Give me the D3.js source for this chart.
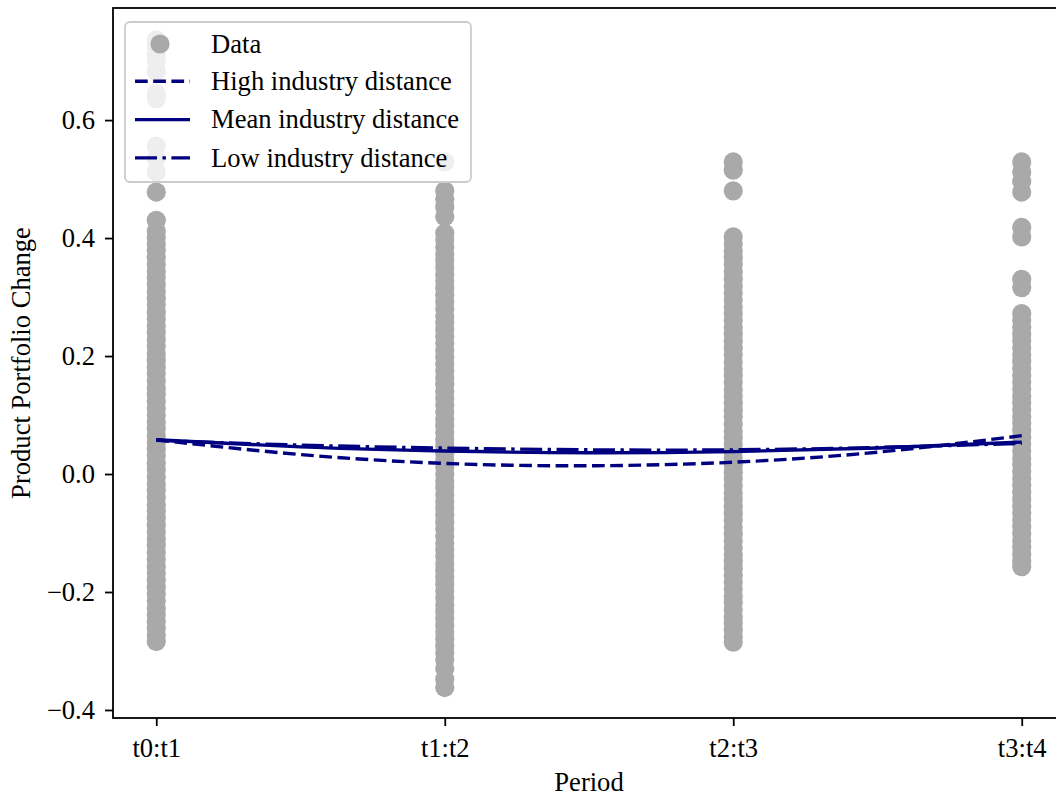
<!DOCTYPE html>
<html>
<head>
<meta charset="utf-8">
<script src="https://cdn.jsdelivr.net/npm/d3@7"></script>
<style>
  html, body { margin: 0; padding: 0; background: #fff; overflow: hidden; }
  text { font-family: "Liberation Serif", "Times New Roman", serif; }
</style>
</head>
<body>
<div id="chart"></div>
<script>
// Scatter + fitted curves: product portfolio change by period
const width = 1056, height = 796;
const margin = {top: 8, left: 113, bottom: 78};
const plotRight = 1065; // right spine falls just outside the picture
const fontSize = 26.6;

const periods = ["t0:t1", "t1:t2", "t2:t3", "t3:t4"];
const yTicks = [-0.4, -0.2, 0.0, 0.2, 0.4, 0.6];

const obsT0 = [0.736, 0.725, 0.712, 0.700, 0.682, 0.645, 0.636, 0.556, 0.535, 0.512, 0.478,
  0.430, 0.412, 0.401, 0.390, 0.379, 0.367, 0.356, 0.344, 0.333, 0.321, 0.309, 0.298, 0.287,
  0.274, 0.263, 0.251, 0.240, 0.228, 0.217, 0.204, 0.193, 0.181, 0.170, 0.158, 0.146, 0.135,
  0.123, 0.112, 0.100, 0.088, 0.077, 0.065, 0.053, 0.042, 0.031, 0.018, 0.007, -0.005, -0.017,
  -0.028, -0.040, -0.052, -0.063, -0.075, -0.087, -0.098, -0.110, -0.121, -0.133, -0.145,
  -0.157, -0.168, -0.180, -0.192, -0.203, -0.215, -0.227, -0.238, -0.250, -0.262, -0.273, -0.284];
const obsT1 = [0.529, 0.480, 0.466, 0.452, 0.436, 0.408, 0.397, 0.385, 0.373, 0.362, 0.350,
  0.338, 0.327, 0.315, 0.303, 0.292, 0.280, 0.268, 0.257, 0.245, 0.233, 0.222, 0.210, 0.198,
  0.187, 0.175, 0.163, 0.152, 0.140, 0.128, 0.117, 0.105, 0.093, 0.082, 0.070, 0.058, 0.047,
  0.035, 0.023, 0.012, 0.000, -0.012, -0.023, -0.035, -0.047, -0.058, -0.070, -0.082, -0.093,
  -0.105, -0.117, -0.128, -0.140, -0.152, -0.163, -0.175, -0.187, -0.198, -0.210, -0.222,
  -0.233, -0.245, -0.257, -0.268, -0.280, -0.292, -0.303, -0.315, -0.330, -0.348, -0.362];
const obsT2 = [0.529, 0.515, 0.480, 0.402, 0.390, 0.378, 0.367, 0.355, 0.343, 0.330, 0.318,
  0.307, 0.295, 0.283, 0.272, 0.260, 0.248, 0.237, 0.225, 0.213, 0.202, 0.190, 0.178, 0.167,
  0.155, 0.143, 0.132, 0.120, 0.108, 0.097, 0.085, 0.073, 0.062, 0.050, 0.038, 0.027, 0.015,
  0.003, -0.008, -0.020, -0.032, -0.043, -0.055, -0.067, -0.078, -0.090, -0.102, -0.113,
  -0.125, -0.137, -0.148, -0.160, -0.172, -0.183, -0.195, -0.207, -0.218, -0.230, -0.242,
  -0.253, -0.265, -0.276, -0.285];
const obsT3 = [0.529, 0.512, 0.496, 0.478, 0.418, 0.402, 0.330, 0.316, 0.272, 0.261, 0.249,
  0.237, 0.226, 0.214, 0.202, 0.191, 0.179, 0.167, 0.156, 0.144, 0.132, 0.121, 0.109, 0.097,
  0.086, 0.074, 0.062, 0.051, 0.039, 0.027, 0.016, 0.004, -0.008, -0.019, -0.031, -0.043,
  -0.054, -0.066, -0.078, -0.089, -0.101, -0.113, -0.124, -0.136, -0.148, -0.157];
const observations = [obsT0, obsT1, obsT2, obsT3];

// fitted curves, sampled every half period
const curveX = [0, 0.5, 1, 1.5, 2, 2.5, 3];
const highFit = [0.058, 0.033, 0.018, 0.014, 0.020, 0.037, 0.065];
const meanFit = [0.058, 0.046, 0.039, 0.036, 0.038, 0.044, 0.054];
const lowFit = [0.057, 0.049, 0.044, 0.041, 0.041, 0.045, 0.052];

const svg = d3.select("#chart").append("svg")
  .attr("width", width).attr("height", height);

const x = d3.scaleLinear().domain([-0.15, 3.15]).range([margin.left, plotRight]);
const y = d3.scaleLinear().domain([-0.4136, 0.790]).range([height - margin.bottom, margin.top]);

const navy = "#000080";
const lw = 3.4;

// points
const pts = observations.flatMap((arr, i) => arr.map(v => ({i, v})));
svg.append("g").selectAll("circle").data(pts).join("circle")
  .attr("cx", d => x(d.i)).attr("cy", d => y(d.v)).attr("r", 9.6)
  .attr("fill", "#a9a9a9");

// fitted lines
const line = d3.line().x((d, i) => x(curveX[i])).y(d => y(d)).curve(d3.curveNatural);
const fits = [
  {name: "High industry distance", vals: highFit, dash: "12.7,5.5"},
  {name: "Mean industry distance", vals: meanFit, dash: null},
  {name: "Low industry distance", vals: lowFit, dash: "22,5.5,3.4,5.5"}
];
fits.forEach(f => {
  svg.append("path").datum(f.vals).attr("d", line)
    .attr("fill", "none").attr("stroke", navy).attr("stroke-width", lw)
    .attr("stroke-dasharray", f.dash);
});

// axes
const xAxis = svg.append("g").attr("transform", `translate(0,${height - margin.bottom})`)
  .call(d3.axisBottom(x).tickValues([0, 1, 2, 3]).tickFormat(i => periods[i])
    .tickSize(8).tickPadding(8).tickSizeOuter(0));
const yAxis = svg.append("g").attr("transform", `translate(${margin.left},0)`)
  .call(d3.axisLeft(y).tickValues(yTicks).tickFormat(d3.format(".1f"))
    .tickSize(8).tickPadding(10).tickSizeOuter(0));
[xAxis, yAxis].forEach(a => {
  a.select(".domain").remove();
  a.selectAll(".tick line").attr("stroke", "#000").attr("stroke-width", 1.8);
  a.selectAll(".tick text").attr("font-size", fontSize).attr("fill", "#000")
    .attr("font-family", "Liberation Serif");
});
xAxis.selectAll(".tick text").attr("y", 39).attr("dy", 0);

// frame
svg.append("rect").attr("x", margin.left).attr("y", margin.top)
  .attr("width", plotRight - margin.left).attr("height", height - margin.bottom - margin.top)
  .attr("fill", "none").attr("stroke", "#000").attr("stroke-width", 1.8);

// axis titles
svg.append("text").attr("x", (margin.left + plotRight) / 2).attr("y", 791)
  .attr("text-anchor", "middle").attr("font-size", fontSize).text("Period");
svg.append("text").attr("transform", "rotate(-90)")
  .attr("x", -(margin.top + height - margin.bottom) / 2).attr("y", 30)
  .attr("text-anchor", "middle").attr("font-size", fontSize).text("Product Portfolio Change");

// legend
const legend = svg.append("g");
legend.append("rect").attr("x", 125).attr("y", 22).attr("width", 346).attr("height", 160)
  .attr("rx", 5).attr("fill", "#fff").attr("fill-opacity", 0.8)
  .attr("stroke", "#cccccc").attr("stroke-width", 1.8);
const rowH = 38.3, row0 = 44;
legend.append("circle").attr("cx", 160).attr("cy", row0).attr("r", 9.6).attr("fill", "#a9a9a9");
legend.append("text").attr("x", 211).attr("y", row0).attr("dy", "0.33em")
  .attr("font-size", fontSize).text("Data");
fits.forEach((f, i) => {
  const ly = row0 + rowH * (i + 1) - 1;
  legend.append("line").attr("x1", 135).attr("x2", 190).attr("y1", ly).attr("y2", ly)
    .attr("stroke", navy).attr("stroke-width", lw).attr("stroke-dasharray", f.dash);
  legend.append("text").attr("x", 211).attr("y", ly).attr("dy", "0.33em")
    .attr("font-size", fontSize).text(f.name);
});
</script>
</body>
</html>
